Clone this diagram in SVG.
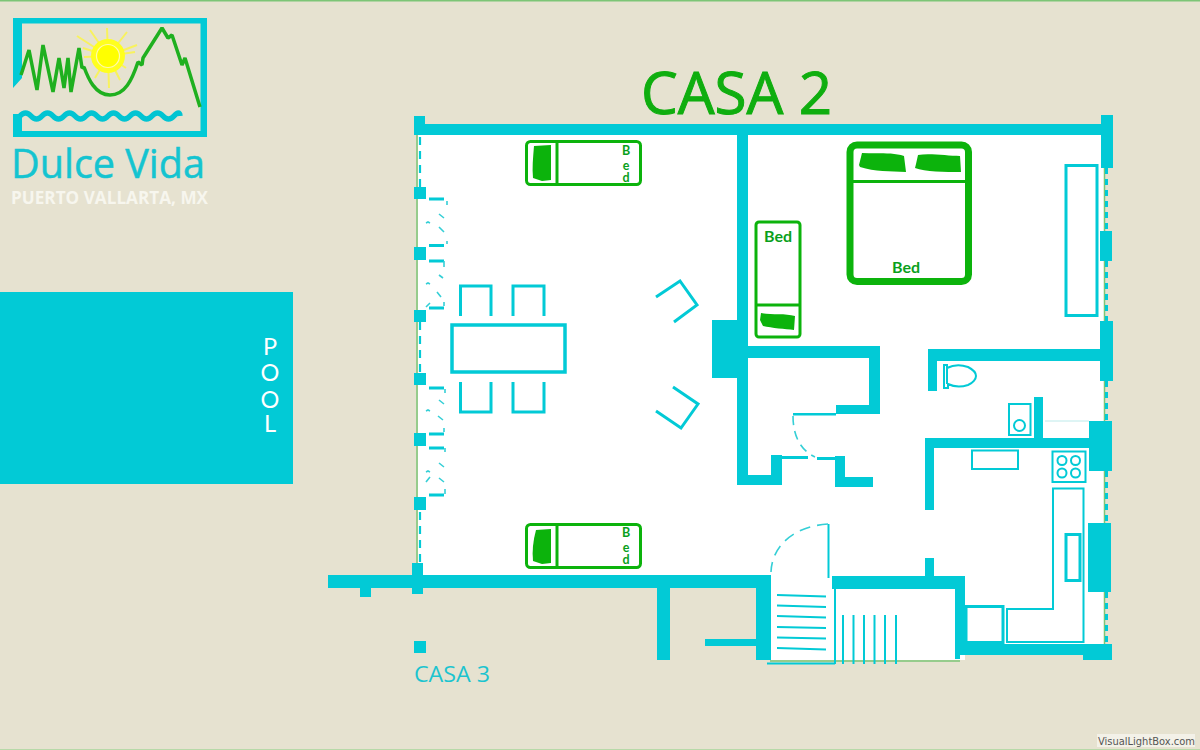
<svg xmlns="http://www.w3.org/2000/svg" width="1200" height="750" viewBox="0 0 1200 750">
<style>
.w{fill:#02cad6}
.l{fill:none;stroke:#02cad6;stroke-width:3}
.t{fill:none;stroke:#02cad6;stroke-width:2}
.d{fill:none;stroke:#35cfd6;stroke-width:1.600}
.g{fill:none;stroke:#0cb30c;stroke-width:3}
.p{fill:#0cb30c}
.bt{font-family:Lato,"Open Sans",sans-serif;font-weight:700;fill:#0a9f1c}
</style>
<rect width="1200" height="750" fill="#e6e2d0"/>
<rect width="1200" height="1.500" fill="#7cc576"/>
<rect y="749" width="1200" height="1" fill="#b7d9a8"/>
<g id="logo">
<path class="w" d="M13 18H207V137H13V114H22V131H200.500V23.500H22V78L13 88Z"/>
<g stroke="#f8f25e" stroke-width="2" fill="none"><path d="M108 56L77 36M108 56L90 30M108 56L107 28M108 56L127 32M108 56L137 45M108 56L135 52M108 56L83 48M108 56L84 57M108 56L95 78M108 56L109 88M108 56L120 80M108 56L126 68"/></g>
<circle cx="108" cy="56" r="17" fill="#ffff1e"/>
<circle cx="108" cy="56" r="11.500" fill="#ffff00" stroke="#fff9b0" stroke-width="1.200"/>
<path d="M21 75L29 50L37 90L43 45L53 92L59 58L64 88L68 58L71 92L79 48L82 68L84 67C88 78 95 95 110 95C125 95 132 80 138 62L142 65L143 58L162 28L168 38L172 35L182 65L185 58L200 107" fill="none" stroke="#1fb01f" stroke-width="3.500" stroke-linejoin="bevel"/>
<path d="M20 116q5.500 -6 11 0t11 0t11 0t11 0t11 0t11 0t11 0t11 0t11 0t11 0t11 0t11 0t11 0t11 0t6 0" fill="none" stroke="#02c4d2" stroke-width="5.500"/>
<text x="11" y="177.500" font-family="'Open Sans',sans-serif" font-size="40" fill="#14c4d0" stroke="#14c4d0" stroke-width="0.500" textLength="194" lengthAdjust="spacingAndGlyphs">Dulce Vida</text>
<text x="11" y="204" font-family="'Open Sans',sans-serif" font-weight="700" font-size="17" fill="#f7f6ee" textLength="197" lengthAdjust="spacingAndGlyphs">PUERTO VALLARTA, MX</text>
</g>
<g id="pool">
<rect class="w" x="0" y="292" width="293" height="192"/>
<g font-family="Lato,sans-serif" font-size="23.500" fill="#fff" text-anchor="middle">
<text x="270" y="355">P</text><text x="270" y="381">O</text><text x="270" y="408">O</text><text x="270" y="432">L</text>
</g>
</g>
<text id="title" x="641" y="114" font-family="'Open Sans',sans-serif" font-size="58" fill="#0fae0f" stroke="#0fae0f" stroke-width="1" textLength="191" lengthAdjust="spacingAndGlyphs">CASA 2</text>
<text id="casa3" x="414" y="682" font-family="'Open Sans',sans-serif" font-size="22" fill="#1cc4cf" textLength="76" lengthAdjust="spacingAndGlyphs">CASA 3</text>
<path id="floor" fill="#fff" d="M418 128H1104V650H965V660H770V575H418Z"/>
<g id="walls">
<path stroke="#7cc576" stroke-width="1.500" fill="none" d="M417 135V570M1104.500 160V650M770 661H960"/>
<path class="w" d="M414 116H425V124H1101V115H1113V168H1101V135H748V346H880V414H836V405H869V358H748V475H771V455H782V485H737V378H712V320H737V135H425H414Z"/>
<path class="w" d="M1100 231H1112V261H1100ZM1100 321H1113V381H1100V361H937V391H928V349H1100Z"/>
<rect class="w" x="793" y="413" width="43" height="2.500"/>
<rect class="w" x="772" y="456" width="36" height="3"/>
<rect class="w" x="817" y="457" width="20" height="3"/>
<path class="w" d="M835 456H845V477H873V487H835Z"/>
<path class="w" d="M925 438H1089V421H1112V471H1089V448H934V510H925Z"/>
<rect class="w" x="1034" y="397" width="9" height="43"/>
<rect class="w" x="1088" y="523" width="23" height="69"/>
<path class="w" d="M328 575H412V563H423V575H771V660H756V646H705V639H756V588H670V660H657V588H423V594H412V588H371V597H360V588H328Z"/>
<path class="w" d="M832 576H925V558H934V576H965V644H1112V660H1083V655H960V659H955V589H832Z"/>
<path class="w" d="M414 187h12v12h-12zM414 247h12v13h-12zM414 310h12v12h-12zM414 373h12v12h-12zM414 433h12v13h-12zM414 497h12v13h-12zM414 641h12v12h-12z"/>
<path fill="none" stroke="#02cad6" stroke-width="2.200" stroke-dasharray="8 6" d="M420 137V187M420 322V373M420 512V563"/>
<path fill="none" stroke="#02cad6" stroke-width="3" stroke-dasharray="6 5" d="M1106.500 168V231M1106.500 261V321M1106.500 381V421M1106.500 471V523M1106.500 592V644"/>
<path fill="none" stroke="#bdeaea" stroke-width="1" d="M1045 421H1089"/>
</g>
<g id="stairs">
<path class="t" d="M777 595L826 596.500M777 605.500L826 607M777 616L826 617.500M777 627L826 628M777 637.500L826 638.500M777 648L826 649.500"/>
<path class="t" d="M835 589V664M767 663.500H835M843 615V664M853.500 615V664M864 615V664M874.500 615V664M885 615V664M896 615V664"/>
<path class="t" d="M828.500 524V578"/>
<path class="d" stroke-dasharray="11 7" d="M828 524C795 526 772 545 771 572"/>
</g>
<g id="folding-doors">
<path class="l" stroke-width="2.500" d="M429 199H444M429 245.500H444M429 261H444M429 308H444M429 388H444M429 434H444M429 448H444M429 495H444"/>
<path class="d" d="M447 201V205M439 214L444 218M426 223L428 222L430 223M439 227L444 232M447 241V244M444 261V267M439 275L443 278M426 284L428 283L430 284M437 292L441 297M430 303L426 307M444 302V306M445 389V393M439 400L444 404M426 411L428 410L430 411M438 416L443 420M444 428V432M445 448V452M439 463L444 467M426 472L428 471L430 472M439 478L444 482M430 477L426 482M445 489V494"/>
</g>
<g id="dining">
<rect x="452" y="325" width="113" height="47" fill="none" stroke="#02cad6" stroke-width="3.500"/>
<path class="l" d="M460.500 316V286H491V316M513 316V286H544V316M460.500 382V412H491V382M513 382V412H544V382"/>
</g>
<g id="armchairs">
<path class="l" d="M656 297L680 281L697 305L674 322M673 387L698 404L681 428L656 411"/>
</g>
<g id="bed-top">
<rect class="g" x="526.500" y="141.500" width="114" height="43" rx="4"/>
<path class="g" d="M557 142V185" stroke-width="2"/>
<path class="p" d="M534 146L551 145V180L542 181L533 178C532 168 533 158 534 146Z"/>
<g class="bt" font-size="12.500" text-anchor="middle"><text x="626" y="155">B</text><text x="626" y="170">e</text><text x="626" y="182">d</text></g>
</g>
<g id="bed-bottom">
<rect class="g" x="526.500" y="524.500" width="114" height="43" rx="4"/>
<path class="g" d="M557 524V568" stroke-width="2"/>
<path class="p" d="M536 530L551 529V563L542 564L533 561C532 551 533 541 536 530Z"/>
<g class="bt" font-size="12.500" text-anchor="middle"><text x="626" y="537">B</text><text x="626" y="552">e</text><text x="626" y="564">d</text></g>
</g>
<g id="bed-double">
<rect x="850" y="145" width="118.500" height="136.500" rx="7" fill="none" stroke="#0cb30c" stroke-width="7"/>
<path class="g" d="M853 181.500H965"/>
<path class="p" d="M862 153C875 154 892 152 904 156L906 172C890 171 875 172 860 167L859 165Z"/>
<path class="p" d="M918 155C930 153 948 156 960 156L961 172C945 172 925 172 915 168L916 164Z"/>
<text class="bt" x="906" y="273" font-size="16" text-anchor="middle">Bed</text>
</g>
<g id="bed-narrow">
<rect class="g" x="756" y="222" width="44" height="115" rx="3"/>
<path class="g" d="M756 305H800" stroke-width="2"/>
<path class="p" d="M761 313C772 315 785 313 795 316L794 330C785 329 772 328 763 326L760 320Z"/>
<text class="bt" x="778" y="242" font-size="16" text-anchor="middle">Bed</text>
</g>
<g id="wardrobe"><rect class="l" x="1066" y="165.500" width="31" height="150" stroke-width="2.500"/></g>
<g id="bathroom">
<path class="t" d="M943 365H947V368C955 364 962 365 968 367C974 370 976 374 976 376C976 379 973 383 968 385C962 387 954 387 948 384V388H944V365ZM947 368V384"/>
<rect class="t" x="1009" y="404" width="21.500" height="31"/>
<circle class="t" cx="1019.500" cy="425.500" r="5.500"/>
</g>
<g id="kitchen">
<rect class="t" x="972" y="450.500" width="46" height="18.500"/>
<rect class="t" x="1052.500" y="451.500" width="33" height="30.500"/>
<circle class="t" cx="1062" cy="460.500" r="4.500"/><circle class="t" cx="1075.500" cy="460.500" r="4.500"/><circle class="t" cx="1062" cy="473" r="4.500"/><circle class="t" cx="1075.500" cy="473" r="4.500"/>
<path class="t" stroke-width="2.500" d="M1053 488.500H1083.500V642H1007V609H1053Z"/>
<rect class="l" x="1066" y="534.500" width="14" height="46"/>
<rect class="l" x="966" y="606.500" width="37" height="36"/>
</g>
<g id="closet-door">
<path class="d" stroke-dasharray="9 6" d="M793 416C793 435 800 450 815 457"/>
</g>
<g id="watermark">
<rect x="1097" y="734" width="98" height="13" fill="#f3f1e8"/>
<text x="1098" y="745" font-family="'DejaVu Sans',sans-serif" font-size="11" fill="#555" textLength="97" lengthAdjust="spacingAndGlyphs">VisualLightBox.com</text>
</g>
</svg>
